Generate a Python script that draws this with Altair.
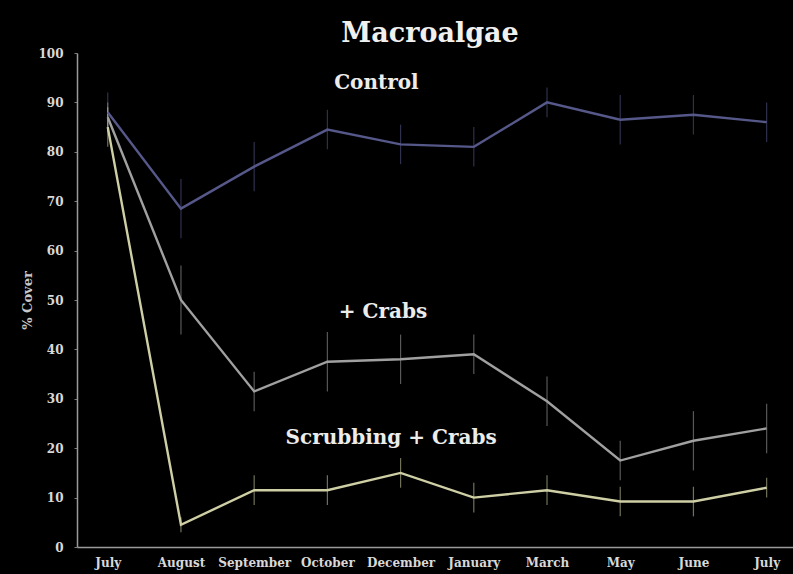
import altair as alt
import pandas as pd
import json

months = ["July", "August", "September", "October", "December", "January",
          "March", "May", "June", "July"]
series_names = ["Control", "+ Crabs", "Scrubbing + Crabs"]
control = [88, 68.5, 77, 84.5, 81.5, 81, 90, 86.5, 87.5, 86]
control_err = [4, 6, 5, 4, 4, 4, 3, 5, 4, 4]
crabs = [87, 50, 31.5, 37.5, 38, 39, 29.5, 17.5, 21.5, 24]
crabs_err = [3, 7, 4, 6, 5, 4, 5, 4, 6, 5]
scrub = [85, 4.5, 11.5, 11.5, 15, 10, 11.5, 9.2, 9.2, 12]
scrub_err = [4, 1.5, 3, 3, 3, 3, 3, 3, 3, 2]

label_text = ["Control", "+ Crabs", "Scrubbing + Crabs"]
label_x = [3.67, 3.76, 3.87]
label_y = [94, 47.5, 22]

colors = ["#56588a", "#a0a0a0", "#cfcfa6"]
FONT = "DejaVu Serif"

rows = []
for name, vals, errs in zip(series_names, [control, crabs, scrub],
                            [control_err, crabs_err, scrub_err]):
    for i, (v, e) in enumerate(zip(vals, errs)):
        rows.append({"series": name, "idx": i, "value": v,
                     "lo": v - e, "hi": v + e})
df = pd.DataFrame(rows)
lab = pd.DataFrame({"text": label_text, "x": label_x, "y": label_y})

label_expr = json.dumps(months) + "[datum.value]"

xs = alt.Scale(domain=[-0.42, 9.36], nice=False, zero=False)
ys = alt.Scale(domain=[0, 100], nice=False)
color = alt.Color("series:N", scale=alt.Scale(domain=series_names, range=colors),
                  legend=None)

x_axis = alt.Axis(values=list(range(10)), labelExpr=label_expr, title=None,
                  labelFont=FONT, labelFontWeight="bold",
                  labelFontSize=12, labelColor="#d8d8d8", domainColor="#9a9a9a",
                  ticks=False, grid=False, labelPadding=10, domainWidth=1.5)
y_axis = alt.Axis(values=list(range(0, 101, 10)), title="% Cover",
                  titleFont=FONT, titleFontWeight="bold",
                  titleFontSize=13, titleColor="#c8c8c8", titlePadding=3,
                  labelFont=FONT, labelFontWeight="bold",
                  labelFontSize=12, labelColor="#d8d8d8", domainColor="#9a9a9a",
                  tickColor="#7a7a7a", tickSize=3, grid=False, labelPadding=11,
                  domainWidth=1.5)

base = alt.Chart(df)
err = base.mark_rule(strokeWidth=1.2, opacity=0.55).encode(
    x=alt.X("idx:Q", scale=xs, axis=x_axis),
    y=alt.Y("lo:Q", scale=ys, axis=y_axis),
    y2="hi:Q",
    color=color,
)
lines = base.mark_line(strokeWidth=2.4).encode(
    x=alt.X("idx:Q", scale=xs),
    y=alt.Y("value:Q", scale=ys),
    color=color,
    order="idx:Q",
)
texts = alt.Chart(lab).mark_text(font=FONT, fontWeight="bold",
                                 fontSize=20, color="#ececec").encode(
    x=alt.X("x:Q", scale=xs),
    y=alt.Y("y:Q", scale=ys),
    text="text:N",
)

chart = alt.layer(err, lines, texts).properties(
    width=716, height=494,
    title=alt.TitleParams("Macroalgae", font=FONT, fontSize=27,
                          fontWeight="bold", color="#f0f0f0", anchor="middle",
                          frame="group", dx=-5, dy=3, offset=2),
    background="#000000",
    padding={"left": 77, "top": 53, "right": 0, "bottom": 27},
    autosize=alt.AutoSizeParams(type="none"),
).configure_view(stroke=None).configure_title(baseline="bottom")

chart.save("out.html", embed_options={"renderer": "svg", "actions": False})
